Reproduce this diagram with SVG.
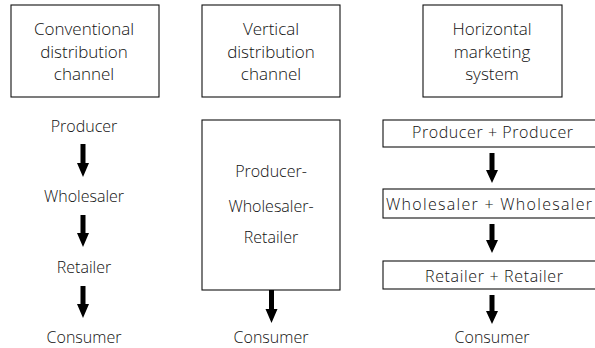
<svg xmlns="http://www.w3.org/2000/svg" width="595" height="348" viewBox="0 0 595 348">
<style>
text{font-family:"Open Sans","Noto Sans","DejaVu Sans",sans-serif;font-size:16px;font-weight:300;fill:#111;text-anchor:middle}
.hd{font-size:17px}
.box{fill:#fff;stroke:#111;stroke-width:1.1}
.arr{fill:#000}
</style>
<rect width="595" height="348" fill="#fff"/>
<g id="conventional-header">
<rect class="box" x="11" y="5" width="148" height="92"/>
<text class="hd" x="84" y="35">Conventional</text>
<text class="hd" x="84" y="58">distribution</text>
<text class="hd" x="84" y="80">channel</text>
</g>
<g id="vertical-header">
<rect class="box" x="202" y="5" width="138" height="92"/>
<text class="hd" x="271" y="35">Vertical</text>
<text class="hd" x="271" y="58">distribution</text>
<text class="hd" x="271" y="80">channel</text>
</g>
<g id="horizontal-header">
<rect class="box" x="423" y="5" width="139" height="92"/>
<text class="hd" x="492" y="35">Horizontal</text>
<text class="hd" x="492" y="58">marketing</text>
<text class="hd" x="492" y="80">system</text>
</g>
<g id="c1-producer"><text x="84" y="132">Producer</text></g>
<g id="c1-wholesaler"><text x="84" y="202">Wholesaler</text></g>
<g id="c1-retailer"><text x="84" y="273">Retailer</text></g>
<g id="c1-consumer"><text x="84" y="343">Consumer</text></g>
<g id="c2-pwr">
<rect class="box" x="202" y="120" width="138" height="170"/>
<text x="271" y="177">Producer-</text>
<text x="271" y="212">Wholesaler-</text>
<text x="271" y="243">Retailer</text>
</g>
<g id="c2-consumer"><text x="271" y="343">Consumer</text></g>
<g id="c3-producers">
<rect class="box" x="383" y="120" width="220" height="27"/>
<text x="492.5" y="138" textLength="161" lengthAdjust="spacing">Producer + Producer</text>
</g>
<g id="c3-wholesalers">
<rect class="box" x="383" y="189" width="220" height="29"/>
<text x="489" y="210" textLength="206" lengthAdjust="spacing">Wholesaler + Wholesaler</text>
</g>
<g id="c3-retailers">
<rect class="box" x="383" y="261" width="220" height="28"/>
<text x="494" y="282" textLength="138" lengthAdjust="spacing">Retailer + Retailer</text>
</g>
<g id="c3-consumer"><text x="492" y="343">Consumer</text></g>
<g id="connectors" class="arr">
<polygon points="80.5,144 85.5,144 85.5,163 89,163 83,177 77,163 80.5,163"/>
<polygon points="80.5,215 85.5,215 85.5,233 89,233 83,247 77,233 80.5,233"/>
<polygon points="80.5,286 85.5,286 85.5,304 89,304 83,318 77,304 80.5,304"/>
<polygon points="269,290 274,290 274,309 277.5,309 271.5,323 265.5,309 269,309"/>
<polygon points="489.5,153 494.5,153 494.5,170 498,170 492,183 486,170 489.5,170"/>
<polygon points="489.5,224 494.5,224 494.5,240 498,240 492,253 486,240 489.5,240"/>
<polygon points="489.5,295 494.5,295 494.5,311 498,311 492,324 486,311 489.5,311"/>
</g>
</svg>
